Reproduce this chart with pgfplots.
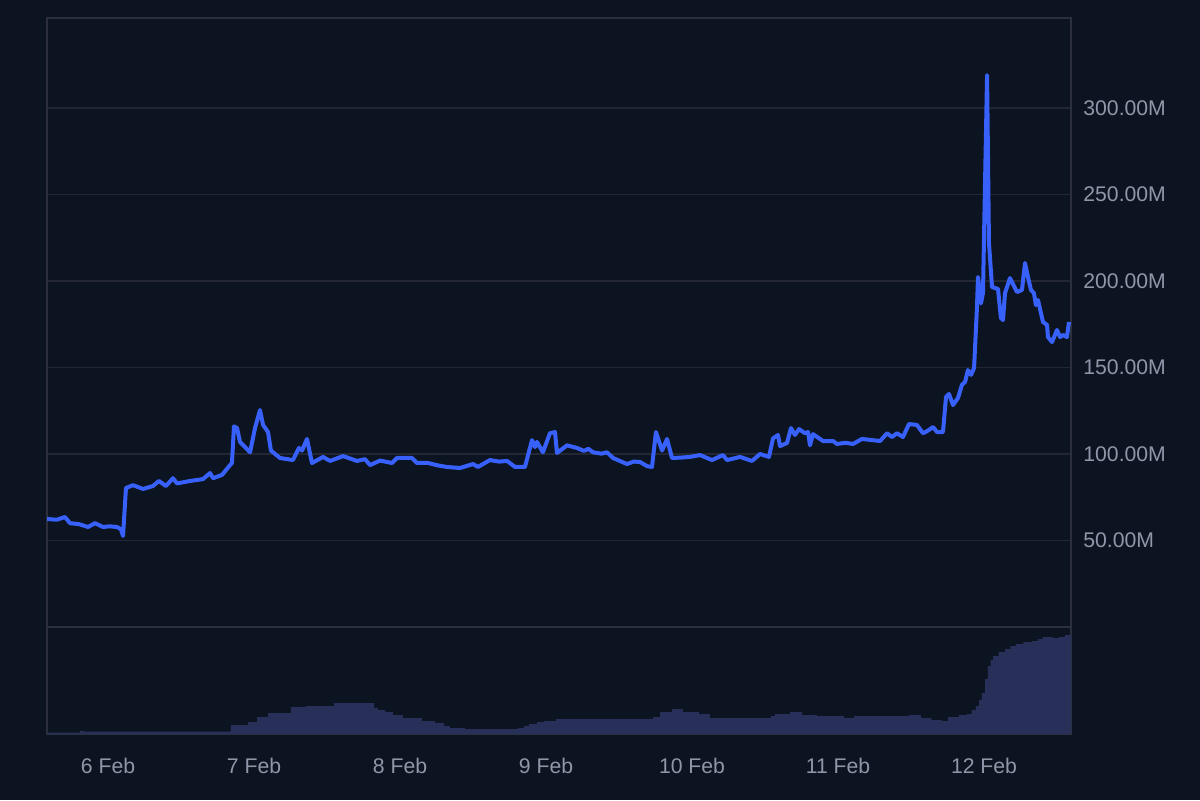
\documentclass[border=0pt]{standalone}
\usepackage{pgfplots}
\pgfplotsset{compat=1.18}
\usepackage{fontspec}
\setmainfont{Liberation Sans}

\definecolor{bg}{HTML}{0D1421}
\definecolor{gridc}{HTML}{222733}
\definecolor{framec}{HTML}{2B303C}
\definecolor{linec}{HTML}{3861FB}
\definecolor{volc}{HTML}{28305A}
\definecolor{labc}{HTML}{8F96A8}

\newcommand{\tickfont}{\fontsize{10.6pt}{12pt}\selectfont}

\begin{document}
\begin{tikzpicture}
\fill[bg] (0,0) rectangle (600pt,400pt);

% volume panel
\begin{axis}[
  at={(23.5pt,33pt)}, anchor=south west, scale only axis,
  width=512pt, height=53.5pt,
  xmin=5.5822, xmax=12.5959, ymin=0, ymax=107,
  axis line style={framec, line width=0.75pt},
  ytick=\empty,
  xtick={6,7,8,9,10,11,12},
  xticklabels={6 Feb,7 Feb,8 Feb,9 Feb,10 Feb,11 Feb,12 Feb},
  major tick length=0pt,
  xticklabel style={font=\tickfont, text=labc, inner sep=0pt, anchor=north, yshift=-12pt},
]
\addplot[const plot, fill=volc, draw=none] coordinates {
(5.582,1.5)(5.808,3)(5.836,2.5)(6.842,9)(6.959,12)(7.021,17)(7.096,21)(7.253,27)
(7.356,28)(7.548,31)(7.822,26)(7.849,24)(7.900,22)(7.952,19)(8.020,16)(8.150,13)
(8.240,11)(8.300,8)(8.342,6)(8.445,5)(8.808,6)(8.850,8)(8.884,10)(8.940,12)
(8.986,13)(9.068,15)(9.733,17)(9.781,22)(9.863,25)(9.938,22)(10.048,20)(10.123,16)
(10.514,16)(10.540,18)(10.568,20)(10.671,22)(10.753,19)(10.856,18)(11.041,16)(11.110,18)
(11.411,18)(11.486,19)(11.568,16)(11.640,14)(11.712,13)(11.753,17)(11.830,19)(11.884,20)
(11.915,24)(11.945,28)(11.966,34)(11.986,41)(12.007,55)(12.027,68)(12.045,74)(12.062,78)
(12.100,82)(12.144,85)(12.180,88)(12.219,90)(12.270,92)(12.329,93)(12.370,95)(12.404,97)
(12.470,96)(12.514,97)(12.555,99)(12.5959,100)
} \closedcycle;
\end{axis}

% price panel
\begin{axis}[
  at={(23.5pt,86.5pt)}, anchor=south west, scale only axis,
  width=512pt, height=304.5pt,
  xmin=5.5822, xmax=12.5959, ymin=0, ymax=352.02,
  axis line style={framec, line width=0.75pt},
  xtick=\empty,
  ytick={50,100,150,200,250,300},
  yticklabels={50.00M,100.00M,150.00M,200.00M,250.00M,300.00M},
  yticklabel pos=right,
  major tick length=0pt,
  ymajorgrids,
  grid style={gridc, line width=0.75pt},
  yticklabel style={font=\tickfont, text=labc, inner sep=0pt, anchor=west, xshift=6pt},
]
\addplot[linec, line width=2pt, line join=round, no marks] coordinates {
(5.582,62.4)(5.589,62.4)(5.650,62.0)(5.705,63.6)(5.740,60.0)(5.800,59.5)(5.863,57.8)(5.911,60.0)
(5.966,57.8)(6.010,58.2)(6.062,57.8)(6.089,56.5)(6.103,52.6)(6.123,80.3)(6.171,82.0)(6.240,79.8)
(6.308,81.5)(6.349,84.4)(6.397,81.5)(6.445,86.0)(6.473,83.0)(6.562,84.4)(6.651,85.5)(6.699,89.0)
(6.719,86.0)(6.781,87.9)(6.836,93.6)(6.849,94.8)(6.863,116.0)(6.884,115.0)(6.904,107.0)(6.973,101.0)
(7.007,115.0)(7.041,125.4)(7.062,116.8)(7.096,112.7)(7.116,102.0)(7.178,97.7)(7.267,96.5)(7.308,103.5)
(7.329,102.0)(7.363,108.7)(7.397,94.8)(7.473,98.3)(7.521,96.0)(7.610,98.8)(7.705,96.0)(7.760,97.0)
(7.795,93.6)(7.863,96.2)(7.945,94.8)(7.979,97.7)(8.082,97.7)(8.116,94.8)(8.192,94.8)(8.260,93.4)
(8.322,92.5)(8.411,91.9)(8.500,94.2)(8.534,92.5)(8.616,96.5)(8.680,95.6)(8.733,96.0)(8.788,92.5)
(8.856,92.5)(8.904,108.0)(8.925,104.0)(8.938,107.0)(8.979,101.0)(9.027,112.0)(9.062,112.7)(9.075,100.6)
(9.144,105.0)(9.212,103.5)(9.260,101.8)(9.290,103.0)(9.322,101.0)(9.380,100.2)(9.418,101.0)(9.459,97.7)
(9.555,94.2)(9.600,95.6)(9.644,95.4)(9.692,93.0)(9.726,92.5)(9.753,112.7)(9.795,102.0)(9.829,108.7)
(9.863,97.7)(9.920,97.9)(9.986,98.3)(10.055,99.4)(10.137,96.5)(10.212,99.4)(10.240,96.5)(10.329,98.3)
(10.411,96.0)(10.466,100.0)(10.527,98.3)(10.555,109.0)(10.589,111.0)(10.603,104.6)(10.651,106.4)
(10.678,115.0)(10.705,111.0)(10.733,114.4)(10.774,112.0)(10.795,112.7)(10.808,105.0)(10.829,111.5)(10.897,107.5)
(10.966,107.5)(10.993,105.8)(11.050,106.5)(11.103,105.8)(11.164,108.7)(11.288,107.5)(11.336,112.0)(11.370,109.8)
(11.404,112.0)(11.445,109.8)(11.486,117.3)(11.541,116.8)(11.582,112.0)(11.616,113.5)(11.651,115.6)(11.678,112.7)
(11.719,112.7)(11.740,133.0)(11.760,134.7)(11.788,128.3)(11.822,132.4)(11.849,140.0)(11.870,141.6)(11.890,148.5)
(11.911,145.7)(11.932,149.7)(11.952,185.0)(11.959,202.3)(11.979,187.0)(11.993,193.0)(12.021,319.0)(12.034,222.0)
(12.055,196.5)(12.096,195.4)(12.116,178.6)(12.130,177.4)(12.144,193.0)(12.178,201.7)(12.226,193.6)(12.260,194.8)
(12.281,210.4)(12.301,202.3)(12.322,194.8)(12.342,193.0)(12.356,186.0)(12.370,189.0)(12.404,176.3)(12.432,174.6)
(12.438,167.6)(12.466,164.7)(12.500,171.7)(12.521,167.6)(12.541,168.8)(12.568,167.6)(12.582,176.3)
};
\end{axis}
\end{tikzpicture}
\end{document}
